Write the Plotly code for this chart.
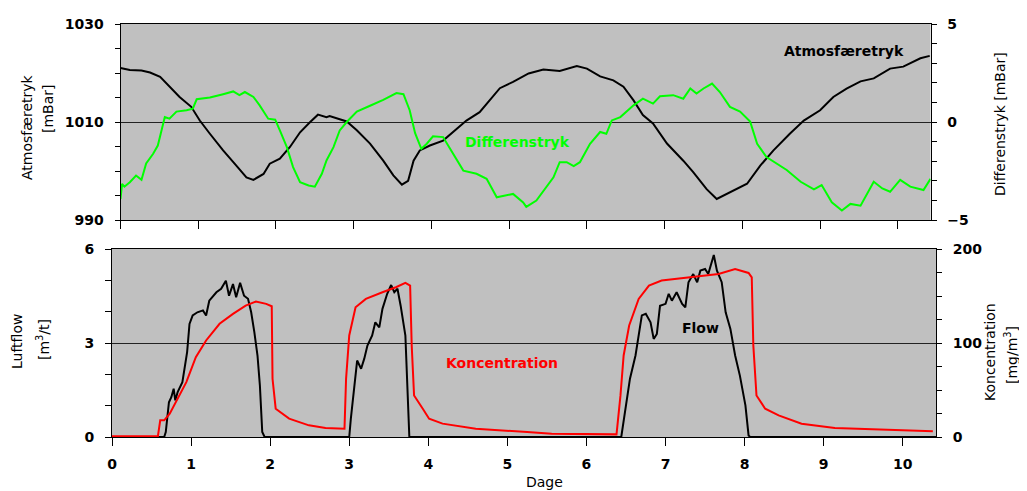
import plotly.graph_objects as go

# Reference canvas size; the page body has an 8px margin, so every pixel
# position is offset by 8px and the figure fills the rest of the window.
W, H = 1027, 491
OFF = 8
FW, FH = W - OFF, H - OFF

# ---------------- data ----------------
atm_days = [0, 0.12, 0.27, 0.38, 0.51, 0.63, 0.76, 0.91, 1.02, 1.15, 1.32, 1.49, 1.62, 1.71, 1.84, 1.92,
            2.05, 2.18, 2.31, 2.44, 2.54, 2.65, 2.69, 2.91, 3.04, 3.21, 3.38, 3.51, 3.62, 3.70, 3.77, 3.85,
            3.98, 4.15, 4.32, 4.45, 4.62, 4.75, 4.88, 5.05, 5.25, 5.44, 5.65, 5.87, 6.00, 6.17, 6.34, 6.47,
            6.60, 6.72, 6.85, 7.03, 7.24, 7.37, 7.54, 7.67, 7.84, 8.06, 8.23, 8.40, 8.61, 8.79, 9.00, 9.17,
            9.34, 9.52, 9.69, 9.90, 10.07, 10.29, 10.41]
atm_mbar = [1021.0, 1020.6, 1020.5, 1020.1, 1019.2, 1017.2, 1015.1, 1013.1, 1010.3, 1007.6, 1004.2, 1001.1,
            998.7, 998.2, 999.4, 1001.5, 1002.5, 1004.9, 1007.9, 1010.0, 1011.5, 1011.0, 1011.2, 1010.1,
            1008.3, 1005.6, 1002.1, 999.1, 997.2, 998.0, 1002.1, 1004.2, 1005.2, 1006.2, 1008.6, 1010.3,
            1012.0, 1014.4, 1016.9, 1018.2, 1019.9, 1020.7, 1020.4, 1021.4, 1020.9, 1019.3, 1018.5, 1017.2,
            1014.4, 1011.4, 1009.7, 1005.6, 1002.1, 999.7, 996.3, 994.3, 995.6, 997.4, 1001.1, 1004.2,
            1007.6, 1010.3, 1012.4, 1015.1, 1016.8, 1018.3, 1018.9, 1020.9, 1021.3, 1023.0, 1023.5]

diff_days = [0, 0.02, 0.05, 0.12, 0.20, 0.27, 0.33, 0.42, 0.48, 0.57, 0.63, 0.72, 0.85, 0.93, 0.98, 1.15,
             1.32, 1.45, 1.53, 1.60, 1.71, 1.79, 1.90, 1.99, 2.05, 2.14, 2.22, 2.31, 2.42, 2.50, 2.59, 2.65,
             2.74, 2.82, 2.91, 3.04, 3.21, 3.38, 3.55, 3.64, 3.72, 3.79, 3.87, 3.94, 4.02, 4.15, 4.24, 4.41,
             4.58, 4.71, 4.84, 5.05, 5.18, 5.22, 5.35, 5.44, 5.57, 5.65, 5.74, 5.83, 5.91, 6.04, 6.17, 6.25,
             6.32, 6.43, 6.60, 6.72, 6.85, 6.94, 7.11, 7.24, 7.33, 7.41, 7.50, 7.61, 7.71, 7.84, 7.97, 8.10,
             8.19, 8.31, 8.44, 8.57, 8.75, 8.92, 9.02, 9.15, 9.28, 9.39, 9.52, 9.69, 9.80, 9.90, 10.03,
             10.16, 10.33, 10.42]
diff_mbar = [-3.93, -3.16, -3.30, -3.07, -2.73, -2.95, -2.11, -1.62, -1.20, 0.25, 0.17, 0.53, 0.60, 0.68,
             1.16, 1.25, 1.42, 1.56, 1.37, 1.53, 1.28, 0.85, 0.17, 0.12, -0.43, -1.28, -2.30, -3.07, -3.24,
             -3.30, -2.64, -1.96, -1.28, -0.43, 0.00, 0.53, 0.83, 1.13, 1.48, 1.42, 0.60, -0.57, -1.37,
             -1.11, -0.73, -0.77, -1.37, -2.48, -2.64, -2.90, -3.84, -3.67, -4.10, -4.33, -4.01, -3.50,
             -2.82, -2.05, -2.05, -2.25, -2.05, -1.11, -0.51, -0.60, 0.08, 0.25, 0.85, 1.19, 0.94, 1.31,
             1.37, 1.19, 1.71, 1.45, 1.71, 1.96, 1.53, 0.77, 0.53, 0.02, -1.11, -1.79, -2.11, -2.45, -3.05,
             -3.44, -3.22, -4.10, -4.52, -4.18, -4.27, -3.05, -3.39, -3.56, -2.95, -3.30, -3.47, -2.90]

flow_days = [0, 0.66, 0.68, 0.72, 0.75, 0.78, 0.80, 0.83, 0.89, 0.95, 0.98, 1.02, 1.08, 1.15, 1.19, 1.23,
             1.32, 1.38, 1.44, 1.48, 1.53, 1.57, 1.62, 1.67, 1.72, 1.76, 1.80, 1.84, 1.87, 1.90, 1.93,
             3.00, 3.02, 3.06, 3.10, 3.15, 3.19, 3.23, 3.29, 3.33, 3.38, 3.42, 3.48, 3.53, 3.57, 3.61, 3.65,
             3.71, 3.74, 3.76, 6.44, 6.49, 6.55, 6.62, 6.66, 6.70, 6.75, 6.81, 6.85, 6.89, 6.93, 7.00, 7.04,
             7.08, 7.14, 7.21, 7.25, 7.29, 7.35, 7.40, 7.44, 7.50, 7.54, 7.61, 7.65, 7.71, 7.76, 7.82, 7.88,
             7.94, 8.01, 8.05, 8.07, 10.42]
flow_m3t = [0, 0, 0.16, 1.11, 1.27, 1.54, 1.17, 1.43, 1.75, 2.71, 3.61, 3.88, 3.98, 4.04, 3.88, 4.35, 4.62,
            4.73, 4.99, 4.51, 4.88, 4.46, 4.92, 4.51, 4.41, 3.98, 3.35, 2.60, 1.65, 0.16, 0,
            0, 0.58, 1.43, 2.44, 2.18, 2.50, 2.92, 3.24, 3.66, 3.50, 4.09, 4.57, 4.85, 4.62, 4.73, 4.19,
            3.24, 1.33, 0, 0, 0.80, 1.86, 2.60, 3.24, 3.88, 3.93, 3.66, 3.13, 3.29, 4.19, 4.25, 4.57,
            4.35, 4.62, 4.25, 4.14, 4.94, 5.20, 4.94, 5.31, 5.36, 5.20, 5.81, 5.31, 4.94, 3.98, 3.45, 2.60,
            1.96, 1.01, 0.05, 0, 0]

conc_days = [0, 0.58, 0.61, 0.66, 0.73, 0.81, 0.94, 1.06, 1.19, 1.36, 1.53, 1.69, 1.82, 1.95, 2.02, 2.03,
             2.07, 2.24, 2.49, 2.70, 2.94, 2.96, 3.00, 3.08, 3.21, 3.42, 3.59, 3.71, 3.77, 3.79, 3.82, 3.93,
             4.01, 4.18, 4.60, 5.25, 5.56, 6.38, 6.43, 6.47, 6.54, 6.66, 6.79, 6.95, 7.25, 7.67, 7.88, 8.05,
             8.09, 8.11, 8.15, 8.26, 8.43, 8.72, 9.14, 9.77, 10.38]
conc_mgm3 = [0.7, 0.7, 17.7, 17.7, 24.8, 37.2, 58.4, 85.0, 102.7, 120.4, 131.0, 139.8, 144.1, 141.6, 139.1,
             61.9, 30.1, 19.5, 12.4, 9.6, 8.8, 61.9, 108.0, 138.1, 146.9, 154.0, 159.3, 163.9, 161.1, 97.3,
             44.2, 30.1, 19.5, 14.2, 8.8, 5.3, 3.5, 2.8, 44.2, 86.7, 118.6, 146.9, 161.1, 166.4, 169.2,
             173.5, 178.8, 174.5, 169.9, 97.3, 44.2, 30.1, 23.0, 14.2, 9.6, 7.8, 6.0]

x_ticks = list(range(0, 11))

# ---------------- figure ----------------
FONT = "DejaVu Sans"
tickfont = dict(family=FONT, size=14, color="black", weight="bold")


def px(x):
    return (x - OFF) / FW


def py(y):
    return 1 - (y - OFF) / FH


fig = go.Figure()
fig.add_trace(go.Scatter(x=atm_days, y=atm_mbar, mode="lines", line=dict(color="black", width=2),
                         xaxis="x", yaxis="y", showlegend=False))
fig.add_trace(go.Scatter(x=diff_days, y=diff_mbar, mode="lines", line=dict(color="#00FF00", width=2),
                         xaxis="x", yaxis="y2", showlegend=False))
fig.add_trace(go.Scatter(x=conc_days, y=conc_mgm3, mode="lines", line=dict(color="#FF0000", width=2),
                         xaxis="x2", yaxis="y4", showlegend=False))
fig.add_trace(go.Scatter(x=flow_days, y=flow_m3t, mode="lines", line=dict(color="black", width=2),
                         xaxis="x2", yaxis="y3", showlegend=False))

common_x = dict(range=[0, 10.42], tickvals=x_ticks, ticks="outside", ticklen=8, tickcolor="black",
                showline=True, linecolor="black", linewidth=1, mirror=True, showgrid=False,
                zeroline=False, tickfont=tickfont, automargin=False)

top_dom = [py(220), py(24)]
bot_dom = [py(437), py(249)]

fig.update_layout(
    width=FW, height=FH,
    autosize=False,
    margin=dict(l=0, r=0, t=0, b=0, pad=0),
    paper_bgcolor="white",
    plot_bgcolor="#C0C0C0",
    xaxis=dict(domain=[px(120.5), px(930.5)], anchor="y", showticklabels=False, **common_x),
    xaxis2=dict(domain=[px(112), px(936)], anchor="y3", showticklabels=True, ticklabelstandoff=6,
                **common_x),
    yaxis=dict(domain=top_dom, anchor="x", range=[990, 1030], tickvals=[990, 1010, 1030],
               ticks="outside", ticklen=5, tickcolor="black",
               minor=dict(dtick=5, tick0=990, ticks="outside", ticklen=5, tickcolor="black", showgrid=False),
               showline=True, linecolor="black", linewidth=1, mirror=True,
               showgrid=True, gridcolor="#222222", gridwidth=1, zeroline=False,
               tickfont=tickfont, ticklabelstandoff=8, automargin=False),
    yaxis2=dict(domain=top_dom, anchor="x", overlaying="y", side="right", range=[-5, 5],
                tickvals=[-5, 0, 5], ticks="outside", ticklen=5, tickcolor="black",
                minor=dict(dtick=1, tick0=-5, ticks="outside", ticklen=5, tickcolor="black", showgrid=False),
                showline=True, linecolor="black", linewidth=1, showgrid=False, zeroline=False,
                tickfont=tickfont, ticklabelstandoff=8, automargin=False),
    yaxis3=dict(domain=bot_dom, anchor="x2", range=[0, 6], tickvals=[0, 3, 6],
                ticks="outside", ticklen=6, tickcolor="black",
                minor=dict(dtick=1, tick0=0, ticks="outside", ticklen=6, tickcolor="black", showgrid=False),
                showline=True, linecolor="black", linewidth=1, mirror=True,
                showgrid=True, gridcolor="#222222", gridwidth=1, zeroline=False,
                tickfont=tickfont, ticklabelstandoff=8, automargin=False),
    yaxis4=dict(domain=bot_dom, anchor="x2", overlaying="y3", side="right", range=[0, 200],
                tickvals=[0, 100, 200], ticks="outside", ticklen=5, tickcolor="black",
                minor=dict(dtick=25, tick0=0, ticks="outside", ticklen=5, tickcolor="black", showgrid=False),
                showline=True, linecolor="black", linewidth=1, showgrid=False, zeroline=False,
                tickfont=tickfont, ticklabelstandoff=8, automargin=False),
)

annots = [
    # series labels
    dict(text="Atmosfæretryk", x=844, y=51, color="black", bold=True, angle=0),
    dict(text="Differenstryk", x=518, y=142, color="#00FF00", bold=True, angle=0),
    dict(text="Koncentration", x=502, y=363, color="#FF0000", bold=True, angle=0),
    dict(text="Flow", x=700, y=328, color="black", bold=True, angle=0),
    # axis titles
    dict(text="Atmosfæretryk", x=27, y=127, color="black", bold=False, angle=-90),
    dict(text="[mBar]", x=48, y=109, color="black", bold=False, angle=-90),
    dict(text="Differenstryk [mBar]", x=1000, y=124, color="black", bold=False, angle=-90),
    dict(text="Luftflow", x=17, y=342, color="black", bold=False, angle=-90),
    dict(text="[m<sup>3</sup>/t]", x=43, y=340, color="black", bold=False, angle=-90),
    dict(text="Koncentration", x=990, y=352, color="black", bold=False, angle=-90),
    dict(text="[mg/m<sup>3</sup>]", x=1011, y=355, color="black", bold=False, angle=-90),
    dict(text="Dage", x=544, y=482, color="black", bold=False, angle=0),
]
for a in annots:
    fig.add_annotation(
        text=a["text"], xref="paper", yref="paper", x=px(a["x"]), y=py(a["y"]),
        xanchor="center", yanchor="middle", showarrow=False, textangle=a["angle"],
        font=dict(family=FONT, size=14, color=a["color"], weight="bold" if a["bold"] else "normal"),
    )

fig.write_html("out.html")
